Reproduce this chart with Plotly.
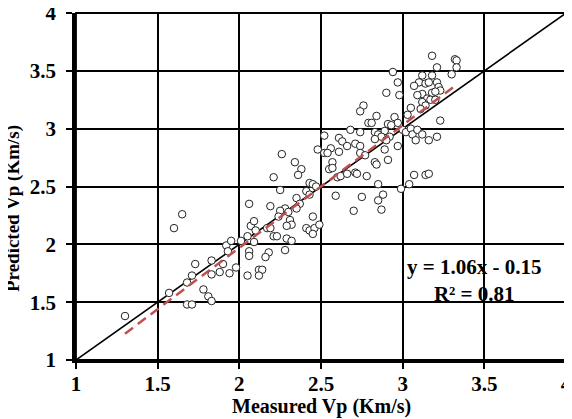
import plotly.graph_objects as go

# Measured Vp (Km/s) and predicted Vp (Km/s)
measured = [
    1.30, 1.57, 1.65, 1.60, 1.68, 1.71, 1.68, 1.71, 1.73, 1.78, 1.81, 1.83, 1.83, 1.83,
    1.88, 1.90, 1.92, 1.95, 1.93, 1.94, 1.98, 2.01, 2.05, 2.05, 2.06, 2.06, 2.06, 2.07,
    2.25, 2.43, 2.45, 2.41, 2.43, 2.59, 2.19, 2.35, 2.37, 2.35, 2.28, 2.25, 2.30, 2.24,
    2.45, 2.31, 2.32, 2.29, 2.09, 2.17, 2.19, 2.10, 2.41, 2.43, 2.46, 2.49, 2.45, 2.21,
    2.23, 2.29, 2.32, 2.09, 2.18, 2.16, 2.28, 2.12, 2.14, 2.12,
    2.52, 2.48, 2.52, 2.56, 2.54, 2.61, 2.63, 2.61, 2.26, 2.34, 2.38, 2.36, 2.21, 2.57,
    2.55, 2.57, 2.60, 2.62, 2.47,
    3.18, 3.32, 3.33, 3.33, 3.21, 3.30, 2.94, 2.97, 2.90, 2.98, 3.12, 3.18, 3.10, 3.14,
    3.16, 3.07, 3.21, 3.22, 3.23, 3.12, 3.18, 3.20, 3.09, 3.15, 3.17, 3.12, 3.20, 3.14,
    3.11, 3.05, 3.03, 3.23, 2.76, 2.74, 2.84, 2.79, 2.81, 2.91, 2.95, 2.97, 2.68, 2.74,
    2.83, 2.89, 2.93, 2.85, 2.87, 2.92, 3.00, 3.02, 3.05, 3.06, 3.09, 3.08, 3.12, 3.16,
    3.21, 2.71, 2.74, 2.83, 2.90, 2.66,
    2.74, 2.77, 2.89, 2.97, 2.83, 2.84, 2.91, 2.71, 2.72, 2.66, 2.78, 2.85, 2.99, 3.04,
    3.07, 3.14, 3.16, 2.75, 2.88, 2.85, 2.70, 2.87,
]
predicted = [
    1.38, 1.58, 2.26, 2.14, 1.48, 1.48, 1.67, 1.73, 1.83, 1.61, 1.55, 1.51, 1.86, 1.74,
    1.76, 1.83, 1.99, 2.03, 1.94, 1.75, 1.80, 2.03, 2.07, 1.73, 1.94, 1.90, 2.35, 2.16,
    2.47, 2.53, 2.52, 2.46, 2.43, 2.42, 2.33, 2.40, 2.35, 2.31, 2.31, 2.29, 2.28, 2.24,
    2.24, 2.21, 2.17, 2.16, 2.20, 2.14, 2.14, 2.12, 2.14, 2.12, 2.14, 2.17, 2.09, 2.07,
    2.07, 2.05, 2.03, 2.02, 1.93, 1.89, 1.95, 1.78, 1.78, 1.73,
    2.94, 2.82, 2.79, 2.83, 2.79, 2.92, 2.89, 2.80, 2.78, 2.71, 2.65, 2.60, 2.58, 2.71,
    2.65, 2.66, 2.58, 2.59, 2.50,
    3.63, 3.60, 3.59, 3.53, 3.53, 3.47, 3.49, 3.40, 3.31, 3.29, 3.46, 3.46, 3.40, 3.39,
    3.40, 3.37, 3.40, 3.36, 3.33, 3.30, 3.31, 3.32, 3.29, 3.26, 3.25, 3.23, 3.25, 3.20,
    3.17, 3.18, 3.12, 3.07, 3.20, 3.15, 3.11, 3.05, 3.05, 3.04, 3.10, 3.05, 2.99, 2.97,
    2.97, 2.98, 3.03, 2.95, 2.93, 2.93, 2.99, 2.97, 3.00, 2.95, 2.99, 2.90, 2.95, 2.90,
    2.93, 2.87, 2.85, 2.91, 2.90, 2.85,
    2.79, 2.77, 2.82, 2.85, 2.71, 2.69, 2.73, 2.62, 2.61, 2.61, 2.59, 2.52, 2.48, 2.52,
    2.60, 2.60, 2.61, 2.41, 2.43, 2.38, 2.29, 2.30,
]

# 1:1 line and fitted trend line (from the equation shown on the chart)
one_to_one = [1, 4]
slope = 1.06
intercept = -0.15
r_squared = 0.81

tick_vals = [1, 1.5, 2, 2.5, 3, 3.5, 4]
tick_text = ["1", "1.5", "2", "2.5", "3", "3.5", "4"]

FONT = "Liberation Serif, Times New Roman, serif"

trend_x = [min(measured), max(measured)]
trend_y = [slope * v + intercept for v in trend_x]

fig = go.Figure()
fig.add_trace(go.Scatter(
    x=one_to_one, y=one_to_one, mode="lines",
    line=dict(color="black", width=1.6), showlegend=False, hoverinfo="skip",
))
fig.add_trace(go.Scatter(
    x=measured, y=predicted, mode="markers",
    marker=dict(symbol="circle", size=7.5, color="white",
                line=dict(color="#222222", width=1)),
    showlegend=False,
))
fig.add_trace(go.Scatter(
    x=trend_x, y=trend_y, mode="lines",
    line=dict(color="#C0504D", width=2.5, dash="10px,6px"),
    showlegend=False, hoverinfo="skip",
))

axis_common = dict(
    range=[1, 4], tickmode="array", tickvals=tick_vals, ticktext=tick_text,
    showgrid=True, gridcolor="black", gridwidth=1.8,
    showline=True, linecolor="black",
    ticks="outside", ticklen=6, tickwidth=2, tickcolor="black",
    tickfont=dict(family=FONT, size=21, color="black", weight="bold"),
    zeroline=False, fixedrange=True, automargin=False,
    ticklabeloverflow="allow",
)

fig.update_xaxes(**axis_common, linewidth=2.5, ticklabelstandoff=-3)
fig.update_yaxes(**axis_common, linewidth=3.5, ticklabelstandoff=6)

# top/right frame (gridlines at 4)
fig.add_shape(type="rect", xref="paper", yref="paper", x0=0, x1=1, y0=0, y1=1,
              line=dict(color="black", width=1.8), fillcolor="rgba(0,0,0,0)", layer="above")

fig.add_shape(type="rect", xref="paper", yref="paper",
              x0=0.669, x1=0.963, y0=0.153, y1=0.308,
              fillcolor="white", line=dict(width=0), layer="between")

fig.add_annotation(
    xref="paper", yref="paper", x=0.812, y=0.228,
    text=f"y = {slope:.2f}x - {abs(intercept):.2f}<br>R² = {r_squared:.2f}",
    showarrow=False, align="center", xanchor="center", yanchor="middle",
    font=dict(family=FONT, size=21, color="black", weight="bold"),
)

fig.add_annotation(
    xref="paper", yref="paper", x=0.5, y=0, yshift=-46,
    text="Measured Vp (Km/s)", showarrow=False,
    xanchor="center", yanchor="middle",
    font=dict(family=FONT, size=20, color="black", weight="bold"),
)

fig.add_annotation(
    xref="paper", yref="paper", x=0, y=0.435, xshift=-63,
    text="Predicted Vp (Km/s)", textangle=-90, showarrow=False,
    xanchor="center", yanchor="middle",
    font=dict(family=FONT, size=19, color="black", weight="bold"),
)

# the page adds an 8px body margin, so the figure is 8px smaller than the window
fig.update_layout(
    width=564, height=411,
    margin=dict(l=68, r=6, t=5, b=59, autoexpand=False),
    plot_bgcolor="white", paper_bgcolor="white",
)

fig.write_html("out.html")
